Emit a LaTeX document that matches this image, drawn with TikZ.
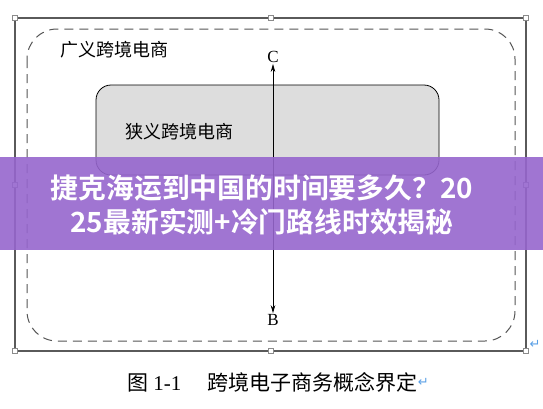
\documentclass[tikz,border=0pt]{standalone}
\usepackage{fontspec}
\setmainfont{Liberation Serif}
\newfontfamily\cjk{Noto Sans CJK SC}
\newfontfamily\cjkb{Noto Sans CJK SC Bold}
\newfontfamily\symf{DejaVu Sans}
\usetikzlibrary{arrows.meta}
\definecolor{framegray}{RGB}{90,90,90}
\definecolor{dashgray}{RGB}{85,85,85}
\definecolor{boxfill}{RGB}{221,221,221}
\definecolor{banner}{RGB}{150,102,206}
\definecolor{retblue}{RGB}{90,160,230}
\tikzset{
  handle/.style={draw=framegray!70,fill=white,line width=0.5pt,minimum size=5pt,inner sep=0pt,rectangle},
  lbl/.style={font=\cjk\fontsize{18}{20}\selectfont,inner sep=0pt},
  letter/.style={font=\fontsize{17}{18}\selectfont,inner sep=1pt},
  captext/.style={font=\fontsize{21}{24}\selectfont,inner sep=0pt}
}
\begin{document}
\begin{tikzpicture}[x=1pt,y=-1pt]
\useasboundingbox (0,0) rectangle (543,408);
\fill[white] (0,0) rectangle (543,408);
% outer frame
\draw[framegray,line width=1.3pt] (15,18) rectangle (526,351);
% dashed region
\draw[dashgray,line width=1pt,dash pattern=on 9pt off 6pt,rounded corners=30pt] (27,29) rectangle (515,341);
\node[lbl,anchor=west] (wide) at (60,50) {广义跨境电商};
% inner box
\draw[black,line width=0.8pt,fill=boxfill,rounded corners=15pt] (96,85) rectangle (439,175);
\node[lbl,anchor=west] (narrow) at (125,132) {狭义跨境电商};
% arrow
\node[letter] (C) at (273,57) {C};
\node[letter] (B) at (273,320) {B};
\draw[line width=0.8pt,{Stealth[length=8pt,width=4.5pt]}-{Stealth[length=8pt,width=4.5pt]}] (C.south) -- (B.north);
% handles
\foreach \p/\n in {{(15,18)}/h1,{(271,18)}/h2,{(526,18)}/h3,{(15,185)}/h4,{(526,185)}/h5,{(15,351)}/h6,{(271,351)}/h7,{(526,351)}/h8}
  \node[handle] (\n) at \p {};
\node[font=\symf\fontsize{13}{14}\selectfont,text=retblue,inner sep=0pt] (ret1) at (535,344) {↵};
% caption
\node[captext,anchor=west] (fig) at (127,382) {{\cjk 图} 1-1\hspace{26pt}{\cjk 跨境电子商务概念界定}};
\node[font=\symf\fontsize{13}{14}\selectfont,text=retblue,inner sep=0pt,anchor=west] (ret2) at (fig.east) {↵};
% banner
\fill[banner,opacity=0.9] (0,157) rectangle (543,250);
\node[font=\cjkb\fontsize{27.8}{34}\selectfont,text=white,align=center,inner sep=0pt] (title) at (262,205) {捷克海运到中国的时间要多久？20\\25最新实测+冷门路线时效揭秘};
\end{tikzpicture}
\end{document}
